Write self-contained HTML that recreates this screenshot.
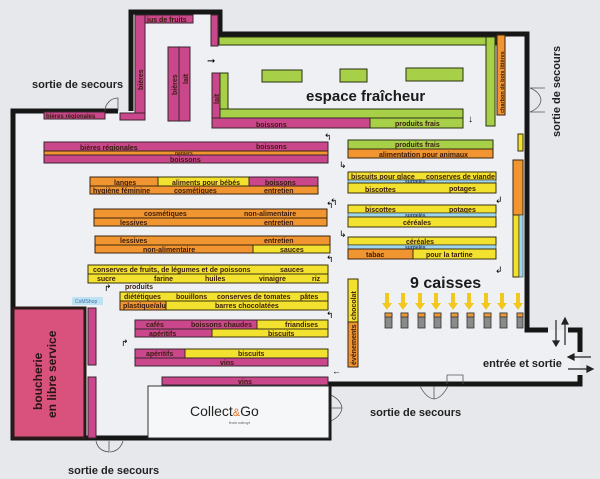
<!DOCTYPE html>
<html><head><meta charset="utf-8"><style>
html,body{margin:0;padding:0;background:#e7e8ec;}
svg{display:block;font-family:"Liberation Sans",sans-serif;}
.t{font-size:7px;font-weight:bold;fill:#3a1c10;}
.s{font-size:5px;font-weight:bold;fill:#2a3a6a;}
.lbl{font-size:11px;font-weight:bold;fill:#222;}
.p{fill:#c9478a;stroke:#3a2530;stroke-width:1;}
.o{fill:#f0952f;stroke:#3a2510;stroke-width:1;}
.y{fill:#f2e22f;stroke:#3a3010;stroke-width:1;}
.g{fill:#a8cf48;stroke:#2a3010;stroke-width:1;}
.b{fill:#9fd6ee;stroke:#3a3a3a;stroke-width:0.6;}
.w{fill:none;stroke:#161616;stroke-width:5;}
.d{fill:none;stroke:#555;stroke-width:0.8;}
</style></head><body>
<svg width="600" height="479" viewBox="0 0 600 479">
<rect width="600" height="479" fill="#e7e8ec"/>
<polygon points="13,111 131,111 131,12 220,12 220,34 527,34 527,330 548,330 580,330 580,384 329,384 329,438 13,438" fill="#eef0f3"/>
<polyline class="w" points="131,111 131,12 220,12 220,34 527,34 527,330 548,330"/>
<polyline class="w" points="118,111 13,111 13,438 329,438 329,384 580,384 580,375"/>
<polyline class="w" points="568,330 580,330 580,352"/>
<path class="d" d="M105,111 A13,13 0 0 1 118,98 L118,111"/>
<path class="d" d="M530,88 Q540,92 541,100 M530,112 Q540,108 541,100 M530,88 L545,88 M530,112 L545,112"/>
<path class="d" d="M420,386 Q426,398 434,399 L434,386 M448,386 Q442,398 434,399 M447,375 h16 v9 M447,375 v9"/>
<path class="d" d="M331,395 Q341,400 342,408 L331,408 M331,421 Q341,416 342,408"/>
<path class="d" d="M96,441 Q98,451 109,452 L109,441 M123,441 Q120,451 110,452"/>
<rect class="p" x="135" y="15" width="10" height="105"/>
<text class="t" transform="translate(143,90) rotate(-90)">bières</text>
<rect class="p" x="120" y="113" width="25" height="7"/>
<rect class="p" x="145" y="15" width="48" height="8"/><text class="t" x="147" y="22">jus de fruits</text>
<rect class="p" x="44" y="112" width="61" height="7"/><text class="t" x="46" y="118" style="font-size:6px">bières régionales</text>
<rect class="p" x="168" y="47" width="11" height="74"/><rect class="p" x="179" y="47" width="11" height="74"/>
<text class="t" transform="translate(177,95) rotate(-90)">bières</text>
<text class="t" transform="translate(188,84) rotate(-90)">lait</text>
<rect class="p" x="211" y="15" width="7" height="31"/>
<rect class="g" x="219" y="37" width="277" height="8"/>
<rect class="g" x="486" y="37" width="9" height="89"/>
<rect class="o" x="497" y="35" width="8" height="80"/>
<text class="t" transform="translate(504,113) rotate(-90)" style="font-size:5.5px">charbon de bois litières</text>
<rect class="g" x="262" y="70" width="40" height="12"/>
<rect class="g" x="340" y="69" width="27" height="13"/>
<rect class="g" x="406" y="68" width="57" height="13"/>
<text x="306" y="101" style="font-size:15px;font-weight:bold;fill:#1a1a1a">espace fraîcheur</text>
<rect class="p" x="212" y="73" width="8" height="55"/><text class="t" transform="translate(219,104) rotate(-90)">lait</text>
<rect class="g" x="220" y="73" width="8" height="37"/>
<rect class="g" x="220" y="109" width="243" height="9"/>
<rect class="p" x="212" y="118" width="158" height="10"/><text class="t" x="256" y="127">boissons</text>
<rect class="g" x="370" y="118" width="93" height="10"/><text class="t" x="395" y="126">produits frais</text>
<text x="207" y="64" style="font-size:10px">➞</text>
<text x="468" y="122" style="font-size:10px">↓</text>
<rect class="p" x="44" y="142" width="284" height="9"/><text class="t" x="80" y="150">bières régionales</text><text class="t" x="256" y="149">boissons</text>
<rect class="o" x="44" y="151" width="284" height="4"/><text class="s" x="175" y="155" style="fill:#5a2a10">papiers</text>
<rect class="p" x="44" y="155" width="284" height="8"/><text class="t" x="170" y="162">boissons</text>
<text x="324" y="140" style="font-size:9px">↰</text>
<rect class="g" x="348" y="140" width="145" height="9"/><text class="t" x="395" y="147">produits frais</text>
<rect class="o" x="348" y="149" width="145" height="9"/><text class="t" x="379" y="157">alimentation pour animaux</text>
<rect class="o" x="90" y="177" width="68" height="9"/><text class="t" x="114" y="185">langes</text>
<rect class="y" x="158" y="177" width="91" height="9"/><text class="t" x="172" y="185">aliments pour bébés</text>
<rect class="p" x="249" y="177" width="69" height="9"/><text class="t" x="265" y="185">boissons</text>
<rect class="o" x="90" y="186" width="228" height="8"/><text class="t" x="93" y="193">hygiène féminine</text><text class="t" x="174" y="193">cosmétiques</text><text class="t" x="264" y="193">entretien</text>
<text x="326" y="208" style="font-size:9px">↰</text>
<rect class="y" x="348" y="172" width="148" height="8"/><text class="t" x="351" y="179">biscuits pour glace</text><text class="t" x="426" y="179">conserves de viande</text>
<rect class="b" x="348" y="180" width="148" height="3"/><text class="s" x="405" y="183">surgelés</text>
<rect class="y" x="348" y="183" width="148" height="10"/><text class="t" x="365" y="192">biscottes</text><text class="t" x="449" y="191">potages</text>
<text x="339" y="168" style="font-size:9px">↳</text>
<text x="495" y="203" style="font-size:9px">↲</text>
<rect class="o" x="94" y="209" width="233" height="9"/><text class="t" x="144" y="216">cosmétiques</text><text class="t" x="244" y="216">non-alimentaire</text>
<rect class="o" x="94" y="218" width="233" height="8"/><text class="t" x="120" y="225">lessives</text><text class="t" x="264" y="225">entretien</text>
<text x="339" y="237" style="font-size:9px">↳</text>
<text x="330" y="205" style="font-size:9px">↰</text>
<rect class="y" x="348" y="205" width="148" height="8"/><text class="t" x="365" y="212">biscottes</text><text class="t" x="449" y="212">potages</text>
<rect class="b" x="348" y="213" width="148" height="4"/><text class="s" x="405" y="217">surgelés</text>
<rect class="y" x="348" y="217" width="148" height="10"/><text class="t" x="403" y="225">céréales</text>
<rect class="o" x="95" y="236" width="235" height="9"/><text class="t" x="120" y="243">lessives</text><text class="t" x="264" y="243">entretien</text>
<rect class="o" x="95" y="245" width="158" height="8"/><text class="t" x="143" y="252">non-alimentaire</text>
<rect class="y" x="253" y="245" width="77" height="8"/><text class="t" x="280" y="252">sauces</text>
<text x="326" y="262" style="font-size:9px">↰</text>
<rect class="y" x="348" y="237" width="148" height="8"/><text class="t" x="406" y="244">céréales</text>
<rect class="b" x="348" y="245" width="148" height="4"/><text class="s" x="405" y="249">surgelés</text>
<rect class="o" x="348" y="249" width="65" height="10"/><text class="t" x="366" y="257">tabac</text>
<rect class="y" x="413" y="249" width="83" height="10"/><text class="t" x="426" y="257">pour la tartine</text>
<text x="495" y="273" style="font-size:9px">↲</text>
<rect class="y" x="88" y="265" width="240" height="9"/><text class="t" x="93" y="272">conserves de fruits, de légumes et de poissons</text><text class="t" x="280" y="272">sauces</text>
<rect class="y" x="88" y="274" width="240" height="9"/><text class="t" x="97" y="281">sucre</text><text class="t" x="154" y="281">farine</text><text class="t" x="205" y="281">huiles</text><text class="t" x="259" y="281">vinaigre</text><text class="t" x="312" y="281">riz</text>
<text x="326" y="318" style="font-size:9px">↰</text>
<text x="104" y="291" style="font-size:9px">↱</text>
<text class="t" x="125" y="289">produits</text>
<rect class="y" x="120" y="292" width="208" height="9"/><text class="t" x="124" y="299">diététiques</text><text class="t" x="176" y="299">bouillons</text><text class="t" x="217" y="299">conserves de tomates</text><text class="t" x="300" y="299">pâtes</text>
<rect class="o" x="120" y="301" width="46" height="9"/><text class="t" x="123" y="308">plastique/alu</text>
<rect class="y" x="166" y="301" width="162" height="9"/><text class="t" x="215" y="308">barres chocolatées</text>
<rect class="p" x="135" y="320" width="122" height="9"/><text class="t" x="146" y="327">cafés</text><text class="t" x="191" y="327">boissons chaudes</text>
<rect class="y" x="257" y="320" width="71" height="9"/><text class="t" x="285" y="327">friandises</text>
<rect class="p" x="135" y="329" width="77" height="8"/><text class="t" x="149" y="336">apéritifs</text>
<rect class="y" x="212" y="329" width="116" height="8"/><text class="t" x="268" y="336">biscuits</text>
<text x="121" y="346" style="font-size:9px">↱</text>
<rect class="p" x="135" y="349" width="50" height="9"/><text class="t" x="146" y="356">apéritifs</text>
<rect class="y" x="185" y="349" width="143" height="9"/><text class="t" x="238" y="356">biscuits</text>
<rect class="p" x="135" y="358" width="193" height="8"/><text class="t" x="220" y="365">vins</text>
<rect class="p" x="162" y="377" width="166" height="8"/><text class="t" x="238" y="384">vins</text>
<rect x="148" y="386" width="181" height="52" fill="#f6f7f8" stroke="#333" stroke-width="1"/>
<text x="190" y="416" style="font-size:14px;fill:#222">Collect<tspan fill="#e5762a" style="font-size:11px">&amp;</tspan>Go</text>
<text x="229" y="424" style="font-size:4px;fill:#555">from colruyt</text>
<rect x="13" y="308" width="72" height="130" fill="#d9527e" stroke="#2a1a1a" stroke-width="3"/>
<rect class="p" x="88" y="308" width="8" height="57"/>
<rect class="p" x="88" y="377" width="8" height="61"/>
<text transform="translate(42,410) rotate(-90)" style="font-size:12px;font-weight:bold;fill:#2a1515">boucherie</text>
<text transform="translate(56,418) rotate(-90)" style="font-size:12px;font-weight:bold;fill:#2a1515">en libre service</text>
<rect x="72" y="297" width="31" height="8" fill="#bfe2f3" rx="1"/><text x="75" y="303" style="font-size:5px;fill:#3a70b0">CoMShop</text>
<rect class="y" x="348" y="279" width="10" height="43"/>
<rect class="o" x="348" y="322" width="10" height="45"/>
<text class="t" transform="translate(356,320) rotate(-90)">chocolat</text>
<text class="t" transform="translate(356,365) rotate(-90)">événements</text>
<text x="332" y="374" style="font-size:9px">←</text>
<rect class="y" x="518" y="134" width="5" height="17"/>
<rect class="o" x="513" y="160" width="10" height="55"/>
<rect class="y" x="513" y="215" width="6" height="62"/>
<rect class="b" x="519" y="215" width="4" height="62"/>
<text x="410" y="288" style="font-size:16px;font-weight:bold;fill:#1a1a1a">9 caisses</text>
<g fill="#f2c81f">
<polygon points="385,293 389,293 389,303 392,303 387,310 382,303 385,303"/>
<polygon points="401,293 405,293 405,303 408,303 403,310 398,303 401,303"/>
<polygon points="418,293 422,293 422,303 425,303 420,310 415,303 418,303"/>
<polygon points="434,293 438,293 438,303 441,303 436,310 431,303 434,303"/>
<polygon points="451,293 455,293 455,303 458,303 453,310 448,303 451,303"/>
<polygon points="467,293 471,293 471,303 474,303 469,310 464,303 467,303"/>
<polygon points="484,293 488,293 488,303 491,303 486,310 481,303 484,303"/>
<polygon points="500,293 504,293 504,303 507,303 502,310 497,303 500,303"/>
<polygon points="516,293 520,293 520,303 523,303 518,310 513,303 516,303"/>
</g>
<g stroke="#333" stroke-width="0.8">
<rect x="385" y="313" width="7" height="15" fill="#8a8a8a"/><rect x="385" y="313" width="7" height="4" fill="#e89a3a"/>
<rect x="401" y="313" width="7" height="15" fill="#8a8a8a"/><rect x="401" y="313" width="7" height="4" fill="#e89a3a"/>
<rect x="418" y="313" width="7" height="15" fill="#8a8a8a"/><rect x="418" y="313" width="7" height="4" fill="#e89a3a"/>
<rect x="434" y="313" width="7" height="15" fill="#8a8a8a"/><rect x="434" y="313" width="7" height="4" fill="#e89a3a"/>
<rect x="451" y="313" width="7" height="15" fill="#8a8a8a"/><rect x="451" y="313" width="7" height="4" fill="#e89a3a"/>
<rect x="467" y="313" width="7" height="15" fill="#8a8a8a"/><rect x="467" y="313" width="7" height="4" fill="#e89a3a"/>
<rect x="484" y="313" width="7" height="15" fill="#8a8a8a"/><rect x="484" y="313" width="7" height="4" fill="#e89a3a"/>
<rect x="500" y="313" width="7" height="15" fill="#8a8a8a"/><rect x="500" y="313" width="7" height="4" fill="#e89a3a"/>
<rect x="517" y="313" width="6" height="15" fill="#8a8a8a"/><rect x="517" y="313" width="6" height="4" fill="#e89a3a"/>
</g>
<g stroke="#222" stroke-width="1.2" fill="#222">
<line x1="556" y1="320" x2="556" y2="343"/><polygon points="553,341 559,341 556,346"/>
<line x1="565" y1="345" x2="565" y2="322"/><polygon points="562,324 568,324 565,318"/>
<line x1="591" y1="357" x2="572" y2="357"/><polygon points="574,354 574,360 568,357"/>
<line x1="568" y1="369" x2="589" y2="369"/><polygon points="587,366 587,372 593,369"/>
</g>
<text class="lbl" x="32" y="88">sortie de secours</text>
<text class="lbl" transform="translate(560,137) rotate(-90)">sortie de secours</text>
<text class="lbl" x="483" y="367">entrée et sortie</text>
<text class="lbl" x="370" y="416">sortie de secours</text>
<text class="lbl" x="68" y="474">sortie de secours</text>
</svg>
</body></html>
